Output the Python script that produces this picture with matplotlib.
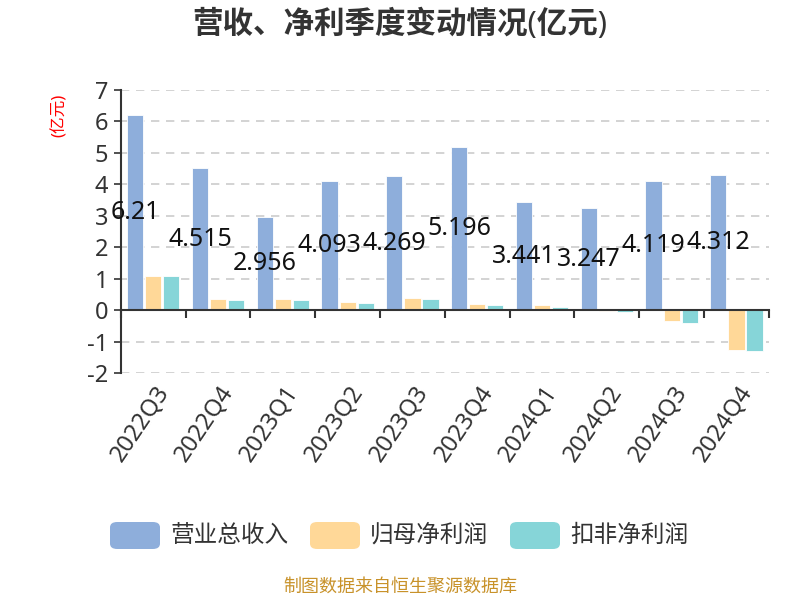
import matplotlib.pyplot as plt
from matplotlib.patches import FancyBboxPatch
import numpy as np

plt.rcParams['font.family'] = ['Noto Sans', 'Noto Sans CJK SC', 'DejaVu Sans']
plt.rcParams['axes.unicode_minus'] = False

# quarters and values (亿元)
quarters = ['2022Q3', '2022Q4', '2023Q1', '2023Q2', '2023Q3',
            '2023Q4', '2024Q1', '2024Q2', '2024Q3', '2024Q4']
revenue = [6.21, 4.515, 2.956, 4.093, 4.269, 5.196, 3.441, 3.247, 4.119, 4.312]
net_profit = [1.08, 0.35, 0.36, 0.25, 0.38, 0.21, 0.18, -0.02, -0.35, -1.25]
net_profit_ded = [1.08, 0.33, 0.32, 0.22, 0.35, 0.18, 0.11, -0.06, -0.40, -1.30]
series_names = ['营业总收入', '归母净利润', '扣非净利润']
colours = ['#8eaedb', '#ffd898', '#86d5d8']

fig = plt.figure(figsize=(8, 6), dpi=100)
ax = fig.add_axes([0.151, 0.378, 0.810, 0.472])

x = np.arange(len(quarters))
w = 0.25
gap = 0.028
for k, vals in enumerate([revenue, net_profit, net_profit_ded]):
    ax.bar(x + (k - 1) * (w + gap), vals, width=w, color=colours[k],
           edgecolor='#ffffff', linewidth=0.6, zorder=3)

# value labels for revenue, in the middle of the bar
for i, v in enumerate(revenue):
    ax.text(x[i] - (w + gap), v / 2, str(v), ha='center', va='center',
            fontsize=18, color='#111111', zorder=5)

ax.set_xlim(-0.5, len(quarters) - 0.5)
ax.set_ylim(-2, 7)
ax.set_yticks(range(-2, 8))
ax.yaxis.grid(True, linestyle=(0, (5, 4)), color='#cccccc', linewidth=1.2, zorder=0)
ax.tick_params(axis='y', labelsize=17, colors='#333333', length=5, width=1.2, pad=4)

for s in ['top', 'right']:
    ax.spines[s].set_visible(False)
ax.spines['left'].set_color('#333333')
ax.spines['left'].set_linewidth(1.5)
ax.spines['bottom'].set_position(('data', 0))
ax.spines['bottom'].set_color('#333333')
ax.spines['bottom'].set_linewidth(1.5)
ax.spines['bottom'].set_zorder(4)

# category boundary ticks on the zero line, labels at the bottom
ax.set_xticks(np.arange(-0.5, len(quarters), 1))
ax.set_xticklabels([])
ax.tick_params(axis='x', length=6, width=1.5, colors='#333333', direction='out')
trans = ax.get_xaxis_transform()
for i, q in enumerate(quarters):
    ax.text(x[i] + 0.02, -0.03, q, transform=trans, rotation=56,
            rotation_mode='anchor', ha='right', va='top',
            fontsize=17, color='#333333')

fig.text(0.5, 0.96, '营收、净利季度变动情况(亿元)', ha='center', va='center',
         fontsize=22, fontweight='bold', color='#333333')
fig.text(0.075, 0.808, '(亿元)', ha='center', va='center', rotation=90,
         fontsize=12, color='#ff0000')

# legend with rounded boxes
legend_x = [0.1375, 0.3875, 0.6375]
for k, name in enumerate(series_names):
    box = FancyBboxPatch((legend_x[k], 0.085), 0.0625, 0.045,
                         boxstyle='round,pad=0,rounding_size=0.009',
                         transform=fig.transFigure, facecolor=colours[k],
                         edgecolor='none')
    fig.patches.append(box)
    fig.text(legend_x[k] + 0.075, 0.1075, name, ha='left', va='center',
             fontsize=17, color='#333333')

fig.text(0.5, 0.022, '制图数据来自恒生聚源数据库', ha='center', va='center',
         fontsize=13, color='#c8922a')

fig.savefig('out.png', dpi=100)
